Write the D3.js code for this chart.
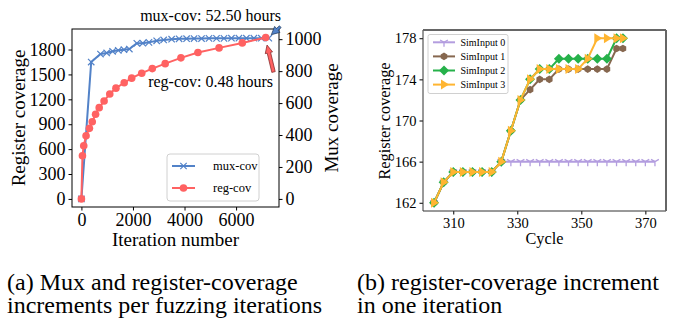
<!DOCTYPE html>
<html>
<head>
<meta charset="utf-8">
<script src="https://cdn.jsdelivr.net/npm/d3@7"></script>
<style>
  body { margin: 0; background: #fff; }
  svg text { font-family: "Liberation Serif", "Times New Roman", serif; fill: #000; }
  .axis path.domain { display: none; }
  .axis line { stroke: #000; }
</style>
</head>
<body>
<div id="chart-area"></div>
<script>
// ---- data: (a) mux / register coverage per iteration
var muxIter = [0, 380, 740, 980, 1210, 1430, 1650, 1860, 2150, 2380, 2620, 2920, 3190, 3500,
               3790, 4080, 4370, 4660, 4950, 5240, 5530, 5820, 6110, 6400, 6690, 6980, 7270];
var muxCov  = [0, 857, 907, 914, 924, 930, 934, 938, 974, 975, 980, 990, 995, 1000,
               1002, 1003, 1004, 1004, 1005, 1005, 1005, 1006, 1006, 1006, 1006, 1006, 1006];
var regIter = [0, 40, 90, 180, 310, 420, 550, 690, 880, 1100, 1340, 1660, 1950, 2340,
               2750, 3250, 3860, 4520, 5340, 6240, 7150];
var regCov  = [0, 520, 640, 760, 850, 930, 1020, 1100, 1180, 1265, 1335, 1400, 1455, 1515,
               1570, 1630, 1700, 1765, 1820, 1880, 1945];
var regTicks = [0, 300, 600, 900, 1200, 1500, 1800];
var muxTicks = [0, 200, 400, 600, 800, 1000];
var iterTicks = [0, 2000, 4000, 6000];

// ---- data: (b) register coverage over cycles
var cycles0 = [304, 307, 310, 313, 316, 319, 322, 325, 328, 331, 334, 337, 340, 343, 346, 349,
               352, 355, 358, 361, 364, 367, 370, 373];
var sim0 = [162, 164, 165, 165, 165, 165, 165, 166, 166, 166, 166, 166, 166, 166, 166, 166,
            166, 166, 166, 166, 166, 166, 166, 166];
var cycles = [304, 307, 310, 313, 316, 319, 322, 325, 328, 331, 334, 337, 340, 343, 346, 349,
              352, 355, 358, 361, 363];
var sim1 = [162, 164, 165, 165, 165, 165, 165, 166, 169, 172, 173, 174, 174, 175, 175, 175,
            175, 175, 175, 177, 177];
var sim2 = [162, 164, 165, 165, 165, 165, 165, 166, 169, 172, 174, 175, 175, 176, 176, 176,
            176, 176, 176, 178, 178];
var sim3 = [162, 164, 165, 165, 165, 165, 165, 166, 169, 172, 174, 175, 175, 175, 175, 175,
            176, 178, 178, 178, 178];
var simNames = ["SimInput 0", "SimInput 1", "SimInput 2", "SimInput 3"];
var covTicks = [162, 166, 170, 174, 178];
var cycleTicks = [310, 330, 350, 370];

var blue = "#5282c8", red = "#ff6262";
var simColors = ["#b39ddf", "#86674f", "#26b14a", "#ffb531"];
var fmt = d3.format("d");

var svg = d3.select("#chart-area").append("svg")
    .attr("width", 675)
    .attr("height", 322);
svg.append("rect").attr("width", 675).attr("height", 322).attr("fill", "#fff");

// marker helpers
function drawMarker(g, type, x, y, color) {
    if (type == "x") {
        g.append("path").attr("d", "M" + (x-3.2) + "," + (y-3.2) + "L" + (x+3.2) + "," + (y+3.2) +
            "M" + (x-3.2) + "," + (y+3.2) + "L" + (x+3.2) + "," + (y-3.2))
            .attr("stroke", color).attr("stroke-width", 1.2).attr("fill", "none");
    } else if (type == "o") {
        g.append("circle").attr("cx", x).attr("cy", y).attr("r", 3.8).attr("fill", color);
    } else if (type == "tri_down") {
        g.append("path").attr("d", "M" + x + "," + y + "L" + x + "," + (y+4.5) +
            "M" + x + "," + y + "L" + (x-3.9) + "," + (y-2.3) +
            "M" + x + "," + y + "L" + (x+3.9) + "," + (y-2.3))
            .attr("stroke", color).attr("stroke-width", 1.3).attr("fill", "none");
    } else if (type == "hex") {
        var hex = d3.range(6).map(function(k){
            var ang = Math.PI / 6 + k * Math.PI / 3;
            return (x + 3.8 * Math.cos(ang)) + "," + (y + 3.8 * Math.sin(ang));
        }).join(" ");
        g.append("polygon").attr("points", hex).attr("fill", color);
    } else if (type == "D") {
        g.append("path").attr("d", "M" + x + "," + (y-5) + "L" + (x+5) + "," + y + "L" + x + "," + (y+5) + "L" + (x-5) + "," + y + "Z")
            .attr("fill", color);
    } else if (type == ">") {
        g.append("path").attr("d", "M" + (x+5) + "," + y + "L" + (x-3) + "," + (y-5) + "L" + (x-3) + "," + (y+5) + "Z")
            .attr("fill", color);
    }
}

// arrow polygon from tail to tip
function arrowPts(x1, y1, x2, y2, shaftW, headW, headL) {
    var dx = x2 - x1, dy = y2 - y1, len = Math.sqrt(dx*dx + dy*dy);
    var ux = dx / len, uy = dy / len, px = -uy, py = ux;
    var bx = x2 - ux * headL, by = y2 - uy * headL;
    var p = [
        [x1 + px*shaftW/2, y1 + py*shaftW/2],
        [bx + px*shaftW/2, by + py*shaftW/2],
        [bx + px*headW/2, by + py*headW/2],
        [x2, y2],
        [bx - px*headW/2, by - py*headW/2],
        [bx - px*shaftW/2, by - py*shaftW/2],
        [x1 - px*shaftW/2, y1 - py*shaftW/2]
    ];
    return p.map(function(d){ return d.join(","); }).join(" ");
}

// ================= (a) =================
var a = { left: 72, right: 279, top: 29, bottom: 207 };
var xA = d3.scaleLinear().domain([-365, 7665]).range([a.left, a.right]);
var yReg = d3.scaleLinear().domain([-97.5, 2047.5]).range([a.bottom, a.top]);
var yMux = d3.scaleLinear().domain([-50.65, 1063.65]).range([a.bottom, a.top]);

var gA = svg.append("g");

var xAxisA = gA.append("g").attr("class", "axis")
    .attr("transform", "translate(0," + a.bottom + ")")
    .call(d3.axisBottom(xA).tickValues(iterTicks).tickFormat(fmt).tickSize(3.5).tickPadding(3));
var yAxisA = gA.append("g").attr("class", "axis")
    .attr("transform", "translate(" + a.left + ",0)")
    .call(d3.axisLeft(yReg).tickValues(regTicks).tickFormat(fmt).tickSize(3.5).tickPadding(3));
var y2AxisA = gA.append("g").attr("class", "axis")
    .attr("transform", "translate(" + a.right + ",0)")
    .call(d3.axisRight(yMux).tickValues(muxTicks).tickFormat(fmt).tickSize(3.5).tickPadding(3));
gA.selectAll(".axis text").attr("font-size", "18px");
xAxisA.selectAll("text").attr("dy", "0.72em");

// mux line
var muxData = muxIter.map(function(d, i){ return [d, muxCov[i]]; });
var regData = regIter.map(function(d, i){ return [d, regCov[i]]; });

gA.append("path")
    .attr("d", d3.line().x(function(d){ return xA(d[0]); }).y(function(d){ return yMux(d[1]); })(muxData))
    .attr("fill", "none").attr("stroke", blue).attr("stroke-width", 2);
muxData.forEach(function(d){ drawMarker(gA, "x", xA(d[0]), yMux(d[1]), blue); });

gA.append("path")
    .attr("d", d3.line().x(function(d){ return xA(d[0]); }).y(function(d){ return yReg(d[1]); })(regData))
    .attr("fill", "none").attr("stroke", red).attr("stroke-width", 2);
regData.forEach(function(d){ drawMarker(gA, "o", xA(d[0]), yReg(d[1]), red); });

// frame
gA.append("rect")
    .attr("x", a.left).attr("y", a.top)
    .attr("width", a.right - a.left).attr("height", a.bottom - a.top)
    .attr("fill", "none").attr("stroke", "#000").attr("stroke-width", 1);

// annotations
var muxLast = muxData[muxData.length - 1], regLast = regData[regData.length - 1];
var mxT = xA(muxLast[0]) + 2.5, myT = yMux(muxLast[1]) - 3.5;
gA.append("polygon")
    .attr("points", arrowPts(mxT + 9, myT - 8, mxT, myT, 2.5, 8, 8))
    .attr("fill", blue).attr("stroke", "#1d3557").attr("stroke-width", 0.7);
var rxT = xA(regLast[0]) + 1.3, ryT = yReg(regLast[1]) + 7.5;
gA.append("polygon")
    .attr("points", arrowPts(rxT + 6.5, ryT + 27, rxT, ryT, 3.5, 7.5, 8))
    .attr("fill", red).attr("stroke", "#7a1f1f").attr("stroke-width", 0.7);

gA.append("text").attr("x", 281).attr("y", 21).attr("text-anchor", "end")
    .attr("font-size", "16px").text("mux-cov: 52.50 hours");
gA.append("text").attr("x", 273).attr("y", 87).attr("text-anchor", "end")
    .attr("font-size", "16px").text("reg-cov: 0.48 hours");

// axis labels
gA.append("text").attr("transform", "translate(25,118) rotate(-90)")
    .attr("text-anchor", "middle").attr("font-size", "19px").text("Register coverage");
gA.append("text").attr("transform", "translate(338,118) rotate(-90)")
    .attr("text-anchor", "middle").attr("font-size", "19px").text("Mux coverage");
gA.append("text").attr("x", 175.5).attr("y", 246)
    .attr("text-anchor", "middle").attr("font-size", "19px").text("Iteration number");

// legend
var legA = gA.append("g");
legA.append("rect").attr("x", 167).attr("y", 154).attr("width", 92).attr("height", 47)
    .attr("rx", 3).attr("fill", "#fff").attr("fill-opacity", 0.8)
    .attr("stroke", "#d0d0d0").attr("stroke-width", 1);
[["mux-cov", blue, "x"], ["reg-cov", red, "o"]].forEach(function(d, i){
    var yy = 166 + i * 22;
    legA.append("line").attr("x1", 172).attr("x2", 195).attr("y1", yy).attr("y2", yy)
        .attr("stroke", d[1]).attr("stroke-width", 2);
    drawMarker(legA, d[2], 183.5, yy, d[1]);
    legA.append("text").attr("x", 213).attr("y", yy + 4.3).attr("font-size", "12.5px").text(d[0]);
});

// ================= (b) =================
var b = { left: 423, right: 666, top: 30, bottom: 211 };
var xB = d3.scaleLinear().domain([300.55, 376.45]).range([b.left, b.right]);
var yB = d3.scaleLinear().domain([161.2, 178.8]).range([b.bottom, b.top]);

var gB = svg.append("g");
var xAxisB = gB.append("g").attr("class", "axis")
    .attr("transform", "translate(0," + b.bottom + ")")
    .call(d3.axisBottom(xB).tickValues(cycleTicks).tickFormat(fmt).tickSize(3.5).tickPadding(3));
var yAxisB = gB.append("g").attr("class", "axis")
    .attr("transform", "translate(" + b.left + ",0)")
    .call(d3.axisLeft(yB).tickValues(covTicks).tickFormat(fmt).tickSize(3.5).tickPadding(3));
gB.selectAll(".axis text").attr("font-size", "14.5px");
xAxisB.selectAll("text").attr("dy", "0.72em");

var series = [
    { x: cycles0, y: sim0, m: "tri_down" },
    { x: cycles, y: sim1, m: "hex" },
    { x: cycles, y: sim2, m: "D" },
    { x: cycles, y: sim3, m: ">" }
];
var lineB = d3.line().x(function(d){ return xB(d[0]); }).y(function(d){ return yB(d[1]); });
series.forEach(function(s, k){
    var pts = s.x.map(function(d, i){ return [d, s.y[i]]; });
    gB.append("path").attr("d", lineB(pts))
        .attr("fill", "none").attr("stroke", simColors[k]).attr("stroke-width", 2);
    pts.forEach(function(d){ drawMarker(gB, s.m, xB(d[0]), yB(d[1]), simColors[k]); });
});

// frame
gB.append("line").attr("x1", b.left).attr("x2", b.left).attr("y1", b.top).attr("y2", b.bottom)
    .attr("stroke", "#333").attr("stroke-width", 1);
gB.append("line").attr("x1", b.left).attr("x2", b.right).attr("y1", b.bottom).attr("y2", b.bottom)
    .attr("stroke", "#333").attr("stroke-width", 1);
gB.append("line").attr("x1", b.left).attr("x2", b.right).attr("y1", b.top).attr("y2", b.top)
    .attr("stroke", "#666").attr("stroke-width", 2);
gB.append("line").attr("x1", b.right).attr("x2", b.right).attr("y1", b.top).attr("y2", b.bottom)
    .attr("stroke", "#666").attr("stroke-width", 2);

// legend
var legB = gB.append("g");
legB.append("rect").attr("x", 428).attr("y", 34.5).attr("width", 80).attr("height", 59)
    .attr("rx", 2).attr("fill", "#fff").attr("fill-opacity", 0.8)
    .attr("stroke", "#d0d0d0").attr("stroke-width", 1);
simNames.forEach(function(name, k){
    var yy = 42.3 + k * 14.1;
    legB.append("line").attr("x1", 433).attr("x2", 455).attr("y1", yy).attr("y2", yy)
        .attr("stroke", simColors[k]).attr("stroke-width", 2);
    drawMarker(legB, series[k].m, 444, yy, simColors[k]);
    legB.append("text").attr("x", 460.5).attr("y", yy + 3.5).attr("font-size", "10px").text(name);
});

gB.append("text").attr("transform", "translate(390,121) rotate(-90)")
    .attr("text-anchor", "middle").attr("font-size", "16.3px").text("Register coverage");
gB.append("text").attr("x", 544.5).attr("y", 244)
    .attr("text-anchor", "middle").attr("font-size", "16.3px").text("Cycle");

// ================= captions =================
var cap = svg.append("g").attr("font-size", "24px");
cap.append("text").attr("x", 7).attr("y", 290).text("(a) Mux and register-coverage");
cap.append("text").attr("x", 7).attr("y", 313).text("increments per fuzzing iterations");
cap.append("text").attr("x", 357).attr("y", 290).text("(b) register-coverage increment");
cap.append("text").attr("x", 357).attr("y", 313).text("in one iteration");
</script>
</body>
</html>
